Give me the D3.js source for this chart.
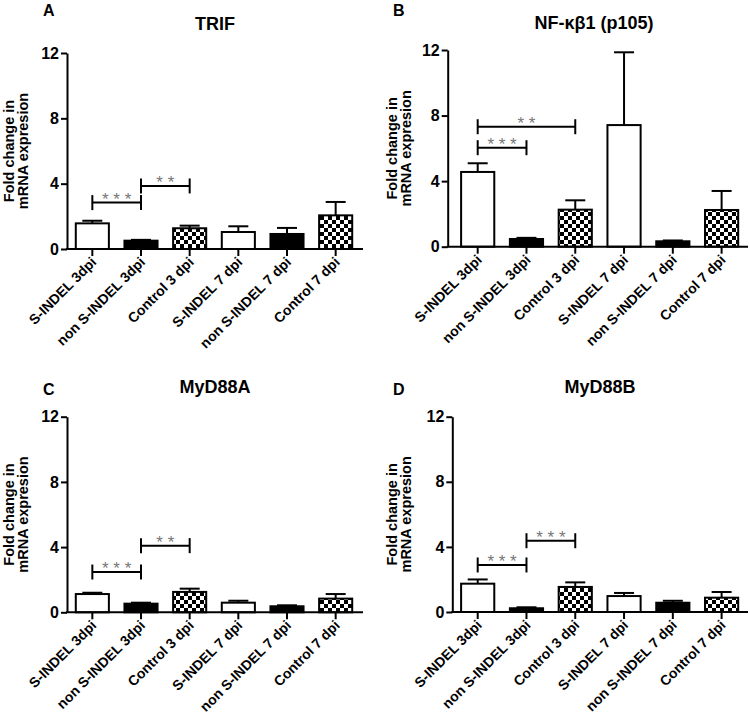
<!DOCTYPE html>
<html>
<head>
<meta charset="utf-8">
<script src="https://cdn.jsdelivr.net/npm/d3@7"></script>
<style>
  html, body { margin: 0; padding: 0; background: #fff; }
  svg { display: block; font-family: Arial, "Liberation Sans", sans-serif; }
</style>
</head>
<body>
<svg id="chart" width="750" height="722"></svg>
<script>
// ---------------- DATA ----------------
const categories = ["S-INDEL 3dpi", "non S-INDEL 3dpi", "Control 3 dpi", "S-INDEL 7 dpi", "non S-INDEL 7 dpi", "Control 7 dpi"];
const yTicks = [0, 4, 8, 12];
const panelLetters = ["A", "B", "C", "D"];
const panelTitles = ["TRIF", "NF-\u03BA\u03B21 (p105)", "MyD88A", "MyD88B"];
const yLabelLines = ["Fold change in", "mRNA expresion"];

const trifMean   = [1.57, 0.51, 1.27, 1.04, 0.92, 2.06];
const trifSem    = [0.16, 0.05, 0.16, 0.35, 0.37, 0.82];
const nfkbMean   = [4.56, 0.47, 2.26, 7.42, 0.33, 2.24];
const nfkbSem    = [0.53, 0.07, 0.57, 4.44, 0.05, 1.16];
const myd88aMean = [1.12, 0.53, 1.25, 0.59, 0.37, 0.84];
const myd88aSem  = [0.08, 0.06, 0.20, 0.12, 0.06, 0.28];
const myd88bMean = [1.74, 0.23, 1.54, 0.98, 0.57, 0.88];
const myd88bSem  = [0.26, 0.06, 0.28, 0.19, 0.12, 0.35];

// significance brackets: [fromIndex, toIndex, level (y value), stars]
const trifSig   = [[0, 1, 2.84, "***"], [1, 2, 3.86, "**"]];
const nfkbSig   = [[0, 1, 6.04, "***"], [0, 2, 7.32, "**"]];
const myd88aSig = [[0, 1, 2.47, "***"], [1, 2, 4.09, "**"]];
const myd88bSig = [[0, 1, 2.89, "***"], [1, 2, 4.38, "***"]];

// ---------------- LAYOUT ----------------
const panels = [
  { mean: trifMean,   sem: trifSem,   sig: trifSig,   axisX: 67,    range: [68, 360],    axisEnd: 363, y0: 249,   y12: 53,    lab: [14, 28],   letter: [43, 16],   title: [215, 30] },
  { mean: nfkbMean,   sem: nfkbSem,   sig: nfkbSig,   axisX: 447.7, range: [453.3, 746], axisEnd: 748, y0: 246.7, y12: 50,    lab: [397, 411], letter: [393, 16],  title: [594, 29] },
  { mean: myd88aMean, sem: myd88aSem, sig: myd88aSig, axisX: 67,    range: [68, 360],    axisEnd: 363, y0: 612.3, y12: 416.7, lab: [14, 28],   letter: [43, 395],  title: [215, 393] },
  { mean: myd88bMean, sem: myd88bSem, sig: myd88bSig, axisX: 452.3, range: [453.3, 746], axisEnd: 748, y0: 612,   y12: 416.7, lab: [397, 411], letter: [393, 395], title: [600, 393] }
];
const fillStyle = ["#fff", "#000", "url(#checker)", "#fff", "#000", "url(#checker)"];
const FONT = "Arial, 'Liberation Sans', sans-serif";

const svg = d3.select("#chart");

// checker pattern
const defs = svg.append("defs");
const pat = defs.append("pattern").attr("id", "checker")
  .attr("patternUnits", "userSpaceOnUse").attr("width", 8).attr("height", 8);
pat.append("rect").attr("width", 8).attr("height", 8).attr("fill", "#fff");
pat.append("rect").attr("x", 0).attr("y", 0).attr("width", 4).attr("height", 4).attr("fill", "#000");
pat.append("rect").attr("x", 4).attr("y", 4).attr("width", 4).attr("height", 4).attr("fill", "#000");

panels.forEach((p, pi) => {
  const g = svg.append("g");
  const x = d3.scaleBand().domain(categories).range(p.range).paddingInner(0.32).paddingOuter(0.16);
  const y = d3.scaleLinear().domain([0, 12]).range([p.y0, p.y12]);

  // panel letter + title
  g.append("text").attr("x", p.letter[0]).attr("y", p.letter[1])
    .attr("font-size", 16).attr("font-weight", "bold").text(panelLetters[pi]);
  g.append("text").attr("x", p.title[0]).attr("y", p.title[1])
    .attr("text-anchor", "middle").attr("font-size", 18).attr("font-weight", "bold").text(panelTitles[pi]);

  // y label
  const cy = (p.y0 + p.y12) / 2;
  yLabelLines.forEach((line, li) => {
    g.append("text")
      .attr("transform", `translate(${p.lab[li]},${cy}) rotate(-90)`)
      .attr("text-anchor", "middle").attr("font-size", 14.5).attr("font-weight", "bold")
      .text(line);
  });

  // bars
  const bars = g.append("g");
  categories.forEach((c, i) => {
    const m = p.mean[i], s = p.sem[i];
    const cx = x(c) + x.bandwidth() / 2;
    bars.append("line").attr("x1", cx).attr("x2", cx).attr("y1", y(m)).attr("y2", y(m + s))
      .attr("stroke", "#000").attr("stroke-width", 2);
    bars.append("line").attr("x1", cx - 10).attr("x2", cx + 10).attr("y1", y(m + s)).attr("y2", y(m + s))
      .attr("stroke", "#000").attr("stroke-width", 2);
    bars.append("rect").attr("x", x(c)).attr("y", y(m)).attr("width", x.bandwidth()).attr("height", y(0) - y(m))
      .attr("fill", fillStyle[i]).attr("stroke", "#000").attr("stroke-width", 2);
  });

  // y axis
  const yAxis = d3.axisLeft(y).tickValues(yTicks).tickSize(6).tickPadding(2).tickSizeOuter(0);
  const ya = g.append("g").attr("transform", `translate(${p.axisX},0)`).call(yAxis);
  ya.select(".domain").attr("stroke-width", 2).attr("stroke", "#000");
  ya.selectAll(".tick line").attr("stroke-width", 2).attr("stroke", "#000");
  ya.selectAll(".tick text").attr("font-size", 16).attr("font-weight", "bold")
    .attr("font-family", FONT).attr("fill", "#000");

  // x axis
  const xAxis = d3.axisBottom(x).tickSize(7).tickSizeOuter(0).tickFormat("");
  const xa = g.append("g").attr("transform", `translate(0,${p.y0})`).call(xAxis);
  xa.select(".domain").remove();
  xa.append("line").attr("x1", p.axisX - 1).attr("x2", p.axisEnd).attr("y1", 0).attr("y2", 0)
    .attr("stroke", "#000").attr("stroke-width", 2);
  xa.selectAll(".tick line").attr("stroke-width", 2).attr("stroke", "#000");
  categories.forEach((c) => {
    const cx = x(c) + x.bandwidth() / 2;
    xa.append("text")
      .attr("transform", `translate(${cx + 5},${14}) rotate(-45)`)
      .attr("text-anchor", "end").attr("font-size", 14).attr("font-weight", "bold")
      .attr("font-family", FONT).attr("fill", "#000")
      .text(c);
  });

  // significance brackets
  const sg = g.append("g");
  p.sig.forEach(([a, b, lvl, stars]) => {
    const xa1 = x(categories[a]) + x.bandwidth() / 2;
    const xb1 = x(categories[b]) + x.bandwidth() / 2;
    const yy = y(lvl);
    sg.append("line").attr("x1", xa1).attr("x2", xb1).attr("y1", yy).attr("y2", yy)
      .attr("stroke", "#000").attr("stroke-width", 2);
    [xa1, xb1].forEach(xx => {
      sg.append("line").attr("x1", xx).attr("x2", xx).attr("y1", yy - 7.5).attr("y2", yy + 7.5)
        .attr("stroke", "#000").attr("stroke-width", 2);
    });
    sg.append("text").attr("x", (xa1 + xb1) / 2).attr("y", yy + 2)
      .attr("text-anchor", "middle").attr("font-size", 17).attr("fill", "#777")
      .text(stars.split("").join(" "));
  });
});
</script>
</body>
</html>
